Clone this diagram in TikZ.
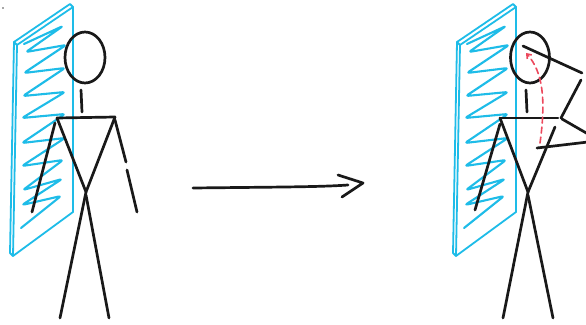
\documentclass[tikz,border=0pt]{standalone}
\usetikzlibrary{arrows.meta}
\definecolor{panelcyan}{RGB}{30,188,232}
\definecolor{motionred}{RGB}{236,72,92}
\tikzset{
  limb/.style={line width=2.7pt, line cap=round, line join=round, black!90},
  panelline/.style={line width=1.8pt, panelcyan, line cap=round, line join=round},
  scribble/.style={line width=2.1pt, panelcyan, line cap=round, line join=round, rounded corners=2.5pt},
  motion/.style={line width=1.6pt, motionred, dash pattern=on 6pt off 4pt, line cap=round},
}
% The hatched board: a thin slanted slab with a zigzag fill
\newcommand{\hatchedboard}{%
  \draw[panelline] (14,42) -- (70,4) -- (73,7) -- (73,212) -- (13,256) -- (10,253) -- cycle;
  \draw[panelline] (14,42) -- (17,45) -- (73,7);
  \draw[panelline] (17,45) -- (13,256);
  \draw[scribble] (24,44) -- (63,26) -- (26,52) -- (66,45) -- (24,73) -- (65,68)
    -- (23,96) -- (65,92) -- (22,118) -- (65,114) -- (22,143) -- (65,138)
    -- (22,166) -- (63,160) -- (23,190) -- (62,179) -- (22,205) -- (61,196) -- (21,228);
}
\begin{document}
\begin{tikzpicture}[x=1pt,y=-1pt]
  \useasboundingbox (0,0) rectangle (586,324);
  \fill[black!70] (3,8) circle (0.9pt);

  % ---- standing figure beside the board ----
  \hatchedboard
  \draw[limb] (85,57.5) ellipse [x radius=20, y radius=25.5];
  \coordinate (lneckT) at (81,90);
  \coordinate (lneckB) at (82,112);
  \coordinate (lshL) at (57,118);
  \coordinate (lshR) at (115,117);
  \coordinate (lhip) at (86,192);
  \draw[limb] (lneckT) -- (lneckB);
  \draw[limb] (lshL) -- (lshR);
  \draw[limb] (55,123) -- (32,212);
  \draw[limb] (115,120) -- (126,162);
  \draw[limb] (127,170) -- (137,212);
  \draw[limb] (lshL) -- (lhip) -- (lshR);
  \draw[limb] (lhip) -- (60,318);
  \draw[limb] (86,195) -- (109,318);

  % ---- arrow between the two poses ----
  \coordinate (arrS) at (193,188);
  \coordinate (arrE) at (348,185);
  \draw[limb] (arrS) .. controls (280,187) and (320,187) .. (arrE);
  \draw[limb] (338,175) -- (363,183) -- (342,197);

  % ---- figure raising an arm to the head ----
  \begin{scope}[xshift=443pt]
    \hatchedboard
  \end{scope}
  \draw[limb] (530,57.5) ellipse [x radius=19.5, y radius=25.5];
  \coordinate (rneckT) at (526,90);
  \coordinate (rneckB) at (527,112);
  \coordinate (rshL) at (500,118);
  \coordinate (rshR) at (558,118);
  \coordinate (rhip) at (528,192);
  \draw[limb] (rneckT) -- (rneckB);
  \draw[limb] (rshL) -- (rshR);
  \draw[limb] (500,124) -- (475,210);
  \draw[limb] (rshL) -- (rhip);
  \draw[limb] (555,127) -- (rhip);
  \draw[limb] (rhip) -- (503,318);
  \draw[limb] (528,195) -- (553,318);
  % arm bent up to the head
  \draw[limb] (523,46) -- (582,73);
  \draw[limb] (581,80) -- (561,118);
  % arm bent across the body
  \draw[limb] (562,119) -- (588,134);
  \draw[limb] (588,142) -- (537,148);
  % path of the hand
  \draw[motion, -{Straight Barb[length=4pt,width=6pt]}]
    (540,143) .. controls (546,100) and (543,72) .. (526,53);
\end{tikzpicture}
\end{document}
